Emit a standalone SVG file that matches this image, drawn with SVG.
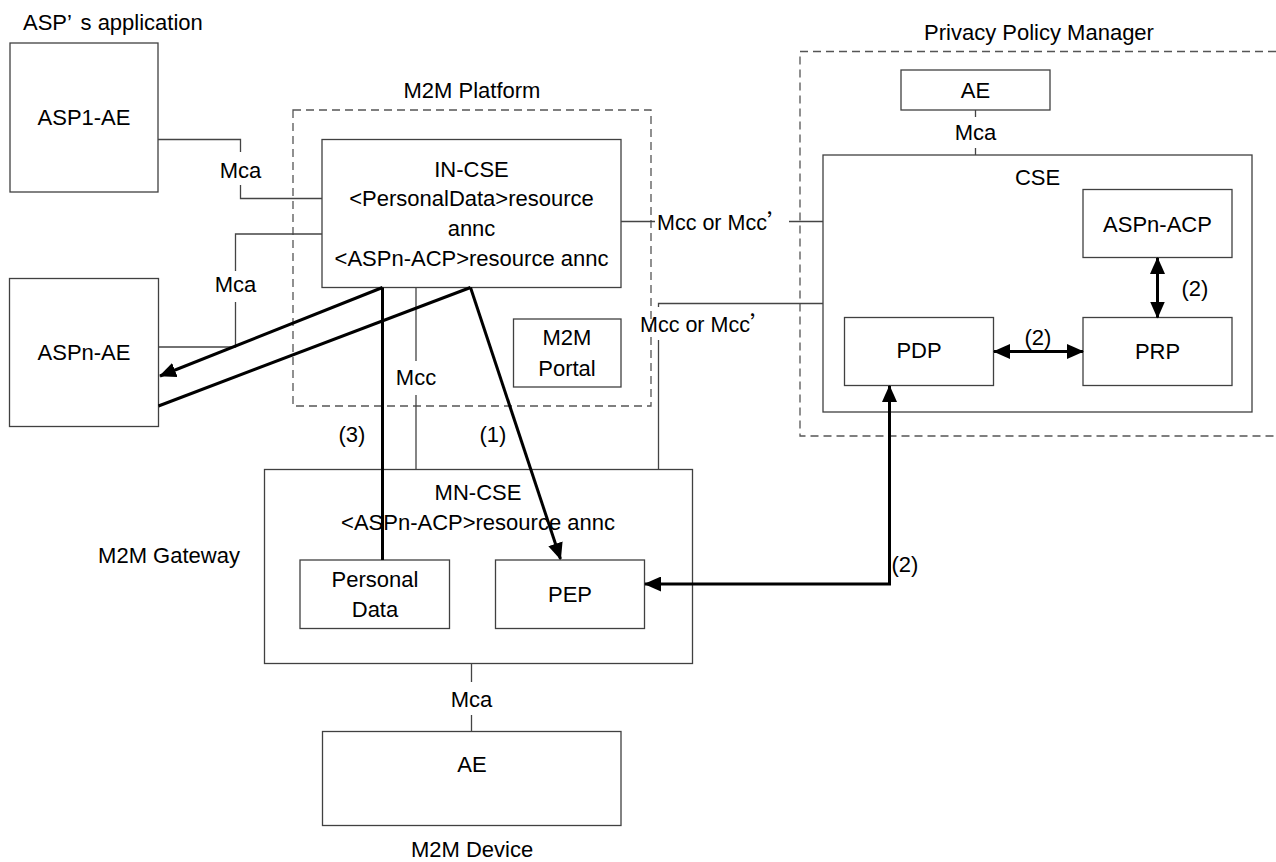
<svg xmlns="http://www.w3.org/2000/svg" width="1276" height="862" viewBox="0 0 1276 862">
<style>
text{font-family:"Liberation Sans",Arial,sans-serif;font-size:22px;fill:#000}
.m{text-anchor:middle}
.s{font-size:21.5px}
.q{font-family:"Noto Sans CJK SC","Liberation Sans",sans-serif}
.box{fill:#fff;stroke:#404040;stroke-width:1.3}
.dash{fill:none;stroke:#555;stroke-width:1.3;stroke-dasharray:8 5}
.thin{fill:none;stroke:#444;stroke-width:1.3}
.thick{fill:none;stroke:#000;stroke-width:3}
</style>
<defs>
<marker id="ah" markerUnits="userSpaceOnUse" viewBox="0 0 17 15" markerWidth="17" markerHeight="15" refX="16" refY="7.5" orient="auto-start-reverse">
<path d="M0,0 L17,7.5 L0,15 z" fill="#000"/>
</marker>
</defs>
<rect width="1276" height="862" fill="#fff"/>

<g id="labels">
<text x="23" y="30">ASP’<tspan dx="9">s application</tspan></text>
<text class="m" x="472" y="98">M2M Platform</text>
<text class="m" x="1039" y="40">Privacy Policy Manager</text>
<text class="m" x="169" y="563">M2M Gateway</text>
<text class="m" x="472" y="857">M2M Device</text>
</g>

<g id="m2m-platform"><rect class="dash" x="293" y="110" width="358" height="296"/></g>
<g id="ppm"><path class="dash" d="M1276,51.5 H800 V436 H1276"/></g>

<g id="asp1-ae"><rect class="box" x="10" y="43" width="148" height="149"/><text class="m" x="84" y="125">ASP1-AE</text></g>
<g id="aspn-ae"><rect class="box" x="9.5" y="278.5" width="149" height="148"/><text class="m" x="84" y="360">ASPn-AE</text></g>

<g id="in-cse"><rect class="box" x="322" y="139.5" width="299" height="148"/>
<text class="m" x="471.5" y="177">IN-CSE</text>
<text class="m" x="471.5" y="206">&lt;PersonalData&gt;resource</text>
<text class="m" x="471.5" y="236">annc</text>
<text class="m" x="471.5" y="266">&lt;ASPn-ACP&gt;resource annc</text></g>

<g id="m2m-portal"><rect class="box" x="513.5" y="319" width="107.5" height="68"/>
<text class="m" x="567" y="345">M2M</text><text class="m" x="567" y="376">Portal</text></g>

<g id="mn-cse"><rect class="box" x="264.5" y="469.5" width="428" height="194"/>
<text class="m" x="478" y="500">MN-CSE</text>
<text class="m" x="478" y="530">&lt;ASPn-ACP&gt;resource annc</text></g>

<g id="personal-data"><rect class="box" x="300" y="560" width="149.5" height="68.5"/>
<text class="m" x="375" y="587">Personal</text><text class="m" x="375" y="617">Data</text></g>

<g id="pep"><rect class="box" x="495.5" y="560" width="149" height="68.5"/><text class="m" x="570" y="602">PEP</text></g>

<g id="device-ae"><rect class="box" x="322.5" y="731.5" width="298.5" height="94"/><text class="m" x="472" y="772">AE</text></g>

<g id="ppm-ae"><rect class="box" x="901" y="70" width="149" height="40"/><text class="m" x="975.5" y="98">AE</text></g>

<g id="cse"><rect class="box" x="823" y="155" width="429" height="257"/><text class="m" x="1037.5" y="185">CSE</text></g>

<g id="aspn-acp"><rect class="box" x="1083" y="189.5" width="149" height="68"/><text class="m" x="1157.5" y="232">ASPn-ACP</text></g>
<g id="prp"><rect class="box" x="1083" y="317.5" width="149" height="68"/><text class="m" x="1157.5" y="359">PRP</text></g>
<g id="pdp"><rect class="box" x="844.5" y="317.5" width="149" height="68"/><text class="m" x="919" y="358">PDP</text></g>

<g id="connectors">
<path class="thin" d="M158,139.5 H240.5 V152 M240.5,185 V198.5 H322"/>
<text class="m" x="240.5" y="178">Mca</text>
<path class="thin" d="M322,234 H235.5 V271 M235.5,302 V347 H158.5"/>
<text class="m" x="235.5" y="292">Mca</text>
<path class="thin" d="M416,287.5 V361 M416,395 V469.5"/>
<text class="m" x="416" y="385">Mcc</text>
<path class="thin" d="M621,221.5 H655 M789,221.5 H823"/>
<text class="s" x="657" y="230">Mcc or Mcc<tspan class="q">’</tspan></text>
<path class="thin" d="M823,303.5 H658.5 V307 M658.5,340 V469.5"/>
<text class="s" x="640" y="332">Mcc or Mcc<tspan class="q">’</tspan></text>
<path class="thin" d="M975.5,110 V117 M975.5,148 V155"/>
<text class="m" x="975.5" y="140">Mca</text>
<path class="thin" d="M471.5,663.5 V682 M471.5,715 V731.5"/>
<text class="m" x="471.5" y="707">Mca</text>

<path class="thick" d="M382.5,287.5 V560"/>
<text class="m" x="352" y="442">(3)</text>
<path class="thick" d="M470.5,287.5 L560.5,559" marker-end="url(#ah)"/>
<text class="m" x="493" y="442">(1)</text>
<path class="thick" d="M382.5,287.5 L160,376" marker-end="url(#ah)"/>
<path class="thick" d="M470.5,287.5 L158.5,406"/>
<path class="thick" d="M645,584 H889.5 V386" marker-start="url(#ah)" marker-end="url(#ah)"/>
<text class="m" x="905" y="572">(2)</text>
<path class="thick" d="M994,351.5 H1083" marker-start="url(#ah)" marker-end="url(#ah)"/>
<text class="m" x="1038" y="345">(2)</text>
<path class="thick" d="M1157.5,258 V317.5" marker-start="url(#ah)" marker-end="url(#ah)"/>
<text class="m" x="1195" y="296">(2)</text>
</g>
</svg>
